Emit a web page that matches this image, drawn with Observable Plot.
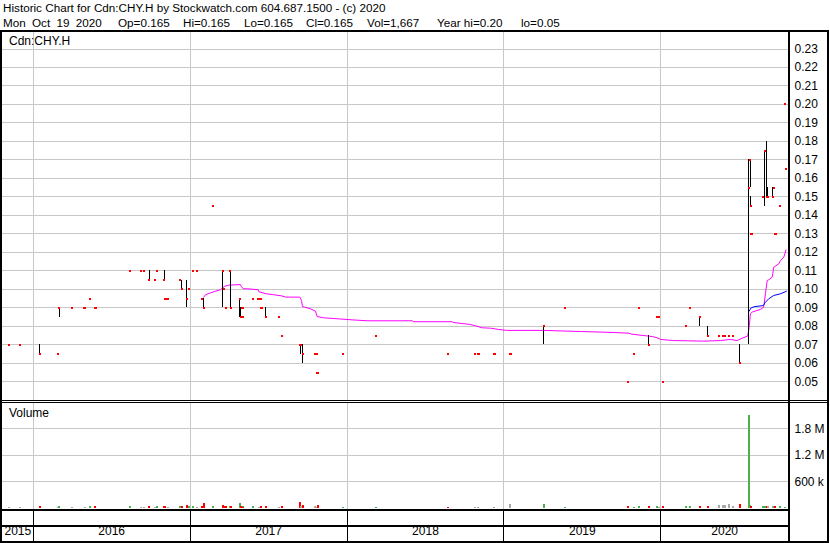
<!DOCTYPE html>
<html><head><meta charset="utf-8">
<script src="https://cdn.jsdelivr.net/npm/d3@7"></script>
<script src="https://cdn.jsdelivr.net/npm/@observablehq/plot@0.6"></script>
<style>
html,body{margin:0;padding:0;background:#fff;}
#chart{position:relative;width:830px;height:543px;overflow:hidden;background:#fff;font-family:"Liberation Sans",Arial,sans-serif;color:#000;}
.t{position:absolute;left:3px;font-size:11.7px;white-space:pre;line-height:14px;}
.t2{position:absolute;top:16px;font-size:11.7px;white-space:pre;line-height:14px;}
.bl{position:absolute;background:#000;}
.panel{position:absolute;left:0;}
.lab{position:absolute;font-size:12px;white-space:pre;line-height:14px;}
svg{display:block;}
</style></head><body>
<div id="chart">
  <div class="t" style="top:1px">Historic Chart for Cdn:CHY.H by Stockwatch.com 604.687.1500 - (c) 2020</div>
  <div id="line2">
    <span class="t2" style="left:3px;word-spacing:3px">Mon Oct 19 2020</span><span class="t2" style="left:118px">Op=0.165</span><span class="t2" style="left:183px">Hi=0.165</span><span class="t2" style="left:244px">Lo=0.165</span><span class="t2" style="left:306px">Cl=0.165</span><span class="t2" style="left:367px">Vol=1,667</span><span class="t2" style="left:437px">Year hi=0.20</span><span class="t2" style="left:521px">lo=0.05</span>
  </div>
  <div class="panel" id="price" style="top:32px"></div>
  <div class="panel" id="volume" style="top:403px"></div>
  <div class="panel" id="years" style="top:511px"></div>
  <div class="lab" style="left:9px;top:34px">Cdn:CHY.H</div>
  <div class="lab" style="left:9px;top:406px">Volume</div>
  <div class="bl" style="left:0;top:30px;width:829px;height:2px"></div>
  <div class="bl" style="left:0;top:30px;width:2px;height:513px"></div>
  <div class="bl" style="left:788px;top:30px;width:2px;height:513px"></div>
  <div class="bl" style="left:827px;top:30px;width:2px;height:513px"></div>
  <div class="bl" style="left:0;top:400px;width:829px;height:1px"></div>
  <div class="bl" style="left:0;top:402px;width:829px;height:1px"></div>
  <div class="bl" style="left:0;top:509px;width:790px;height:2px"></div>
  <div class="bl" style="left:0;top:525px;width:790px;height:2px"></div>
  <div class="bl" style="left:0;top:541px;width:829px;height:2px"></div>
</div>
<script>
// ---- data ----
const priceTicks = [0.05,0.06,0.07,0.08,0.09,0.10,0.11,0.12,0.13,0.14,0.15,0.16,0.17,0.18,0.19,0.20,0.21,0.22,0.23];
const volTicks = [600000, 1200000, 1800000];
const yearTicks = [2016, 2017, 2018, 2019, 2020];
const yearLabels = [2015, 2016, 2017, 2018, 2019, 2020];

const dayT = [2015.843,2015.913,2016.042,2016.159,2016.166,2016.249,2016.327,2016.363,2016.397,2016.614,2016.684,2016.709,2016.739,2016.779,2016.792,2016.834,2016.843,2016.856,2016.937,2016.947,2016.979,2016.992,2017.020,2017.045,2017.077,2017.087,2017.143,2017.209,2017.218,2017.228,2017.256,2017.259,2017.317,2017.323,2017.334,2017.338,2017.402,2017.436,2017.449,2017.455,2017.482,2017.568,2017.583,2017.700,2017.706,2017.718,2017.799,2017.806,2017.812,2017.976,2018.186,2018.645,2018.813,2018.838,2018.940,2019.042,2019.254,2019.391,2019.794,2019.832,2019.864,2019.924,2019.973,2019.990,2020.011,2020.162,2020.189,2020.249,2020.300,2020.374,2020.395,2020.406,2020.432,2020.463,2020.504,2020.561,2020.569,2020.574,2020.578,2020.653,2020.663,2020.676,2020.682,2020.714,2020.723,2020.731,2020.761,2020.790,2020.801];
const dayHi = [.07,.07,.07,.065,.09,.09,.09,.095,.09,.11,.11,.11,.11,.105,.11,.11,.095,.095,.105,.105,.105,.10,.11,.11,.095,.095,.145,.11,.10,.09,.11,.11,.095,.09,.09,.085,.095,.095,.095,.09,.09,.085,.075,.07,.07,.07,.065,.065,.055,.065,.075,.065,.065,.065,.065,.065,.08,.09,.05,.065,.09,.075,.085,.085,.05,.08,.09,.085,.08,.075,.075,.075,.075,.075,.07,.17,.17,.15,.13,.15,.175,.18,.155,.155,.155,.13,.145,.20,.165];
const dayLo = [.07,.07,.065,.065,.085,.09,.09,.095,.09,.11,.11,.11,.105,.105,.11,.105,.095,.095,.105,.10,.09,.10,.11,.11,.095,.09,.145,.09,.10,.09,.11,.09,.085,.085,.09,.085,.095,.095,.095,.09,.085,.085,.075,.07,.065,.06,.065,.065,.055,.065,.075,.065,.065,.065,.065,.065,.07,.09,.05,.065,.09,.07,.085,.085,.05,.08,.09,.08,.075,.075,.075,.075,.075,.075,.06,.07,.155,.145,.13,.15,.145,.15,.15,.15,.155,.13,.145,.20,.165];
const dayCl = [.07,.07,.065,.065,.09,.09,.09,.095,.09,.11,.11,.11,.105,.105,.11,.105,.095,.095,.105,.10,.095,.10,.11,.11,.095,.09,.145,.11,.10,.09,.11,.09,.095,.085,.09,.085,.095,.095,.095,.09,.085,.085,.075,.07,.07,.065,.065,.065,.055,.065,.075,.065,.065,.065,.065,.065,.08,.09,.05,.065,.09,.07,.085,.085,.05,.08,.09,.085,.075,.075,.075,.075,.075,.075,.06,.155,.17,.145,.13,.15,.175,.15,.15,.15,.155,.13,.145,.20,.165];
const dayVol = [20000,20000,45000,20000,45000,25000,25000,35000,30000,30000,25000,25000,40000,25000,30000,35000,40000,25000,35000,40000,60000,35000,45000,25000,40000,110000,30000,50000,30000,30000,30000,45000,100000,40000,30000,25000,35000,25000,25000,30000,40000,25000,30000,130000,40000,60000,30000,25000,70000,25000,20000,25000,20000,20000,20000,85000,75000,25000,45000,25000,40000,45000,45000,25000,30000,30000,30000,40000,45000,70000,60000,70000,75000,40000,75000,2100000,60000,45000,30000,30000,40000,40000,30000,35000,30000,30000,30000,25000,1667];

const maT = [2017.087,2017.098,2017.130,2017.162,2017.194,2017.219,2017.247,2017.321,2017.326,2017.338,2017.368,2017.434,2017.438,2017.485,2017.530,2017.581,2017.610,2017.699,2017.710,2017.716,2017.729,2017.767,2017.799,2017.810,2017.852,2017.938,2018.033,2018.129,2018.416,2018.426,2018.670,2018.677,2018.734,2018.787,2018.819,2018.862,2018.915,2018.967,2019.017,2019.254,2019.488,2019.690,2019.796,2019.813,2019.892,2019.945,2019.977,2019.998,2020.083,2020.274,2020.380,2020.443,2020.487,2020.519,2020.554,2020.563,2020.571,2020.582,2020.614,2020.635,2020.656,2020.667,2020.678,2020.688,2020.710,2020.720,2020.752,2020.763,2020.784,2020.798];
const maV = [0.0958,0.0971,0.0981,0.0990,0.0998,0.1016,0.1023,0.1026,0.1016,0.1003,0.1003,0.0998,0.0987,0.0976,0.0971,0.0965,0.0958,0.0958,0.0940,0.0907,0.0904,0.0895,0.0882,0.0853,0.0846,0.0841,0.0835,0.0830,0.0830,0.0825,0.0825,0.0821,0.0815,0.0810,0.0803,0.0792,0.0790,0.0783,0.0778,0.0778,0.0772,0.0767,0.0763,0.0758,0.0750,0.0745,0.0738,0.0729,0.0723,0.0720,0.0723,0.0729,0.0723,0.0736,0.0747,0.0795,0.0868,0.0877,0.0886,0.0891,0.0904,0.0976,0.1048,0.1052,0.1066,0.1120,0.1138,0.1156,0.1174,0.1213];
const ma2T = [2020.561,2020.576,2020.599,2020.653,2020.667,2020.688,2020.720,2020.763,2020.801];
const ma2V = [0.0880,0.0900,0.0907,0.0912,0.0931,0.0949,0.0967,0.0976,0.0990];

// ---- tables built from the arrays ----
const days = dayT.map((t, i) => ({t, hi: dayHi[i], lo: dayLo[i], cl: dayCl[i], vol: dayVol[i],
  dir: i === 0 ? "flat" : (dayCl[i] > dayCl[i-1] ? "up" : dayCl[i] < dayCl[i-1] ? "down" : "flat")}));
const ma = maT.map((t, i) => ({t, v: maV[i]}));
const ma2 = ma2T.map((t, i) => ({t, v: ma2V[i]}));

const GRID = "#c8c8c8";
const xDomain = [2015.8043, 2020.8139];
const xOpt = {type: "linear", domain: xDomain, range: [2, 788], axis: null};
const volColor = {up: "#4caf50", down: "#ff0000", flat: "#a8a8a8"};
const fmtVol = v => v >= 1e6 ? (v / 1e6).toFixed(1) + " M" : (v / 1e3) + " k";
const common = {width: 830, marginLeft: 2, marginRight: 42, marginTop: 0, marginBottom: 0,
  style: {fontFamily: "'Liberation Sans', Arial, sans-serif", fontSize: "12px", background: "transparent", overflow: "visible"}};

const price = Plot.plot({...common, height: 368,
  x: xOpt,
  y: {type: "linear", domain: [0.05, 0.23], range: [349.3, 16.5]},
  marks: [
    Plot.ruleY(priceTicks, {stroke: GRID, strokeWidth: 1, shapeRendering: "crispEdges"}),
    Plot.ruleX(yearTicks, {stroke: GRID, strokeWidth: 1, shapeRendering: "crispEdges"}),
    Plot.line(ma, {x: "t", y: "v", stroke: "#ff00ff", strokeWidth: 1}),
    Plot.line(ma2, {x: "t", y: "v", stroke: "#0000ff", strokeWidth: 1}),
    Plot.ruleX(days.filter(d => d.hi > d.lo), {x: "t", y1: "lo", y2: "hi", stroke: "#000", strokeWidth: 1, shapeRendering: "crispEdges"}),
    Plot.dot(days, {x: "t", y: "cl", symbol: "square", r: 1.15, fill: "#ff0000", stroke: null, shapeRendering: "crispEdges"}),
    Plot.axisY(priceTicks, {anchor: "right", tickSize: 0, tickPadding: 6, tickFormat: d => d.toFixed(2), fill: "#000", label: null})
  ]
});
document.getElementById("price").appendChild(price);

const volume = Plot.plot({...common, height: 106,
  x: xOpt,
  y: {type: "linear", domain: [0, 1800000], range: [104.7, 25.3]},
  marks: [
    Plot.ruleY(volTicks, {stroke: GRID, strokeWidth: 1, shapeRendering: "crispEdges"}),
    Plot.ruleX(yearTicks, {stroke: GRID, strokeWidth: 1, shapeRendering: "crispEdges"}),
    Plot.ruleX(days, {x: "t", y1: 0, y2: "vol", stroke: d => volColor[d.dir], strokeWidth: 2, shapeRendering: "crispEdges"}),
    Plot.axisY(volTicks, {anchor: "right", tickSize: 0, tickPadding: 6, tickFormat: fmtVol, fill: "#000", label: null})
  ]
});
document.getElementById("volume").appendChild(volume);

const yearMid = yearLabels.map(y => ({y, mid: (Math.max(y, xDomain[0]) + Math.min(y + 1, xDomain[1])) / 2}));
const years = Plot.plot({...common, height: 30,
  x: xOpt,
  marks: [
    Plot.ruleX(yearTicks, {stroke: "#000", strokeWidth: 1, shapeRendering: "crispEdges"}),
    Plot.text(yearMid, {x: "mid", text: d => String(d.y), frameAnchor: "bottom", dy: -7, fill: "#000", fontSize: 12})
  ]
});
document.getElementById("years").appendChild(years);
</script>
</body></html>
